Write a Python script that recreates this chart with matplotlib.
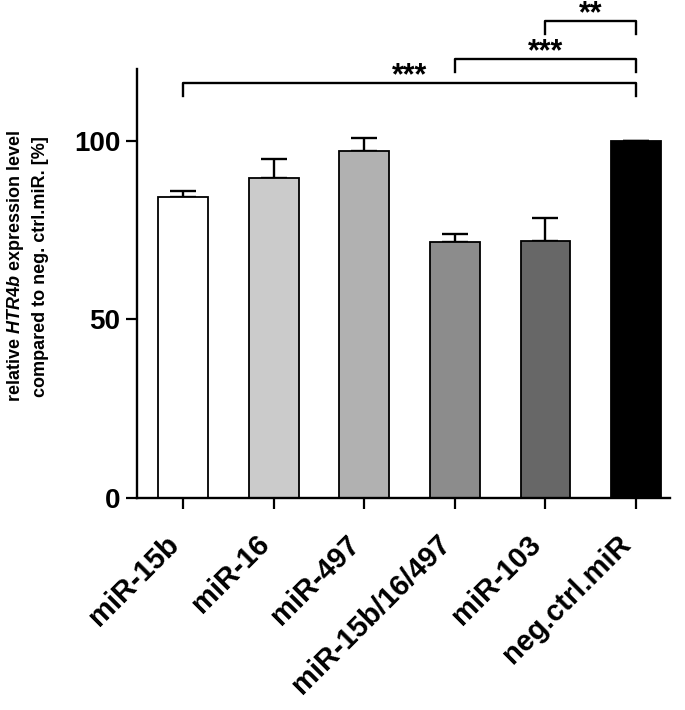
import numpy as np
import matplotlib
matplotlib.use("Agg")
from matplotlib import pyplot as plt
from matplotlib import transforms

plt.rcParams['font.family'] = ['Liberation Sans', 'DejaVu Sans']
plt.rcParams['font.weight'] = 'bold'
plt.rcParams['mathtext.fontset'] = 'custom'
plt.rcParams['mathtext.it'] = 'Liberation Sans:italic:bold'
plt.rcParams['mathtext.rm'] = 'Liberation Sans:bold'

# data
labels = ['miR-15b', 'miR-16', 'miR-497', 'miR-15b/16/497', 'miR-103', 'neg.ctrl.miR']
means = [84.1, 89.5, 97.0, 71.6, 71.9, 100.0]
errs = [1.9, 5.2, 3.8, 2.3, 6.5, 0.0]
colors = ['#ffffff', '#cbcbcb', '#b1b1b1', '#8c8c8c', '#676767', '#000000']
# significance brackets: (from, to, label)
sig = [(0, 5, '***'), (3, 5, '***'), (4, 5, '**')]

fig = plt.figure(figsize=(6.85, 7.1), dpi=100)
ax = fig.add_axes([0.2, 0.2986, 0.778, 0.6042])

x = np.arange(len(labels))
ax.bar(x, means, width=0.55, color=colors, edgecolor='black', linewidth=1.3, zorder=2)
ax.errorbar(x, means, yerr=[np.zeros(len(errs)), errs], fmt='none', ecolor='black',
            elinewidth=1.7, capsize=9.5, capthick=1.7, zorder=1)

ax.set_xlim(-0.51, 5.375)
ax.set_ylim(0, 120)
ax.set_yticks([0, 50, 100])
ax.set_xticks(x)
ax.set_xticklabels([])
ax.tick_params(axis='y', labelsize=20, width=1.6, length=8, pad=4)
ax.tick_params(axis='x', width=1.6, length=8)
ax.spines['top'].set_visible(False)
ax.spines['right'].set_visible(False)
ax.spines['left'].set_linewidth(1.7)
ax.spines['bottom'].set_linewidth(1.7)

# rotated category labels, placed a bit left/below each tick like the original
trans = transforms.blended_transform_factory(ax.transData, ax.transAxes)
trans = trans + transforms.ScaledTranslation(-0.19, -0.32, fig.dpi_scale_trans)
for xi, lab in zip(x, labels):
    ax.text(xi, 0, lab, transform=trans, rotation=45, ha='right', va='top',
            rotation_mode='anchor', fontsize=21, fontweight='bold', clip_on=False)

ax.set_ylabel('relative $\\mathit{HTR4b}$ expression level\ncompared to neg. ctrl.miR. [%]',
              fontsize=13, fontweight='bold', linespacing=1.5)
ax.yaxis.set_label_coords(-0.165, 0.54)

heights = [116, 122.8, 133.3]
for (a, b, s), h in zip(sig, heights):
    ax.plot([a, a, b, b], [h - 3.5, h, h, h - 3.5], color='black', lw=1.7, clip_on=False)
    ax.text((a + b) / 2, h + 2.0, s, ha='center', va='center', fontsize=22, fontweight='bold')

fig.savefig('out.png', dpi=100)
